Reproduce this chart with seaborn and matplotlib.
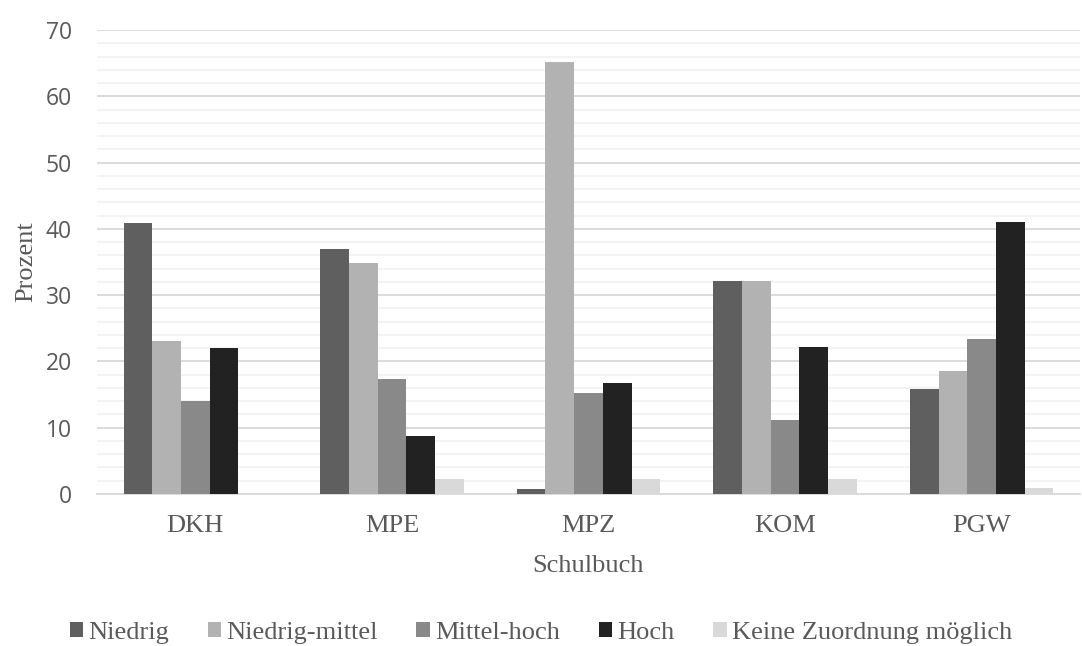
import pandas as pd
import matplotlib.pyplot as plt
import seaborn as sns
from matplotlib.patches import Patch
from matplotlib.ticker import MultipleLocator

# values
schulbuch = ['DKH', 'MPE', 'MPZ', 'KOM', 'PGW']
niveau = ['Niedrig', 'Niedrig-mittel', 'Mittel-hoch', 'Hoch', 'Keine Zuordnung möglich']
niedrig = [40.9, 37.0, 0.7, 32.2, 15.9]
niedrig_mittel = [23.1, 34.8, 65.2, 32.2, 18.5]
mittel_hoch = [14.0, 17.4, 15.2, 11.1, 23.4]
hoch = [22.0, 8.7, 16.7, 22.2, 41.1]
keine = [0.0, 2.2, 2.2, 2.2, 0.9]
farben = ['#5f5f5f', '#b2b2b2', '#898989', '#222222', '#d9d9d9']

series = [niedrig, niedrig_mittel, mittel_hoch, hoch, keine]
rows = []
for name, vals in zip(niveau, series):
    for buch, v in zip(schulbuch, vals):
        rows.append({'Schulbuch': buch, 'Niveau': name, 'Prozent': v})
df = pd.DataFrame(rows)

sns.set_theme(style='white')
plt.rcParams['font.family'] = ['Liberation Serif', 'DejaVu Serif']

fig = plt.figure(figsize=(10.82, 6.46), dpi=100)
ax = fig.add_axes([97 / 1082, 1 - 494 / 646, (1080 - 97) / 1082, (494 - 30) / 646])

sns.barplot(data=df, x='Schulbuch', y='Prozent', hue='Niveau', order=schulbuch,
            hue_order=niveau, palette=farben, width=0.73, gap=0, ax=ax,
            edgecolor='none', legend=False, zorder=3)

ax.set_ylim(0, 70)
ax.yaxis.set_major_locator(MultipleLocator(10))
ax.yaxis.set_minor_locator(MultipleLocator(2))
ax.grid(axis='y', which='major', color='#d9d9d9', linewidth=1.3, zorder=0)
ax.grid(axis='y', which='minor', color='#f2f2f2', linewidth=1.3, zorder=0)
ax.set_axisbelow(True)
for s in ['top', 'right', 'left']:
    ax.spines[s].set_visible(False)
ax.spines['bottom'].set_color('#d9d9d9')
ax.spines['bottom'].set_linewidth(1.3)
ax.tick_params(axis='both', which='both', length=0)
ax.tick_params(axis='y', pad=18)
ax.tick_params(axis='x', pad=15)

for lab in ax.get_yticklabels():
    lab.set_fontfamily(['Open Sans', 'DejaVu Sans'])
    lab.set_fontsize(16.5)
    lab.set_color('#595959')
for lab in ax.get_xticklabels():
    lab.set_fontsize(19)
    lab.set_color('#595959')

ax.set_xlabel('Schulbuch', fontsize=19, color='#595959', labelpad=13)
ax.set_ylabel('Prozent', fontsize=19, color='#595959', labelpad=6)

handles = [Patch(facecolor=c, edgecolor='none') for c in farben]
fig.legend(handles, niveau, loc='center', bbox_to_anchor=(0.5, 1 - 633 / 646),
           ncol=5, frameon=False, fontsize=19, handlelength=0.52, handleheight=0.52,
           handletextpad=0.2, columnspacing=1.45, labelcolor='#595959')

fig.savefig('out.png', dpi=100)
